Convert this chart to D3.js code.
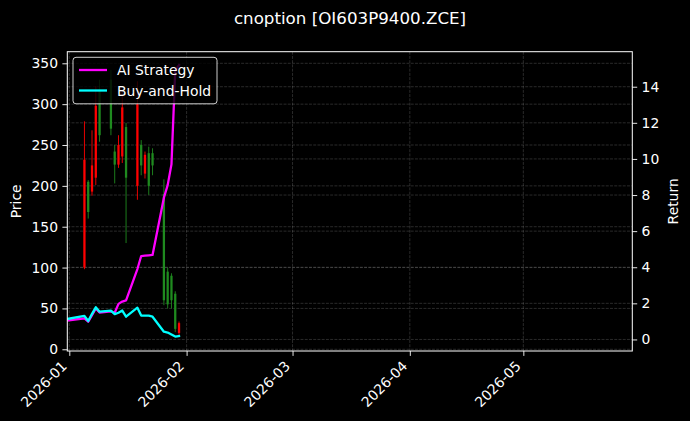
<!DOCTYPE html>
<html>
<head>
<meta charset="utf-8">
<script src="https://cdn.jsdelivr.net/npm/d3@7"></script>
<style>
  html, body { margin: 0; padding: 0; background: #000; }
  svg { display: block; }
  text { font-family: "DejaVu Sans", sans-serif; fill: #fff; }
</style>
</head>
<body>
<svg id="chart" width="690" height="421"></svg>
<script>
// ---- data ----
const title = "cnoption [OI603P9400.ZCE]";
const candleDates = ["2026-01-05","2026-01-06","2026-01-07","2026-01-08","2026-01-09",
  "2026-01-12","2026-01-13","2026-01-14","2026-01-15","2026-01-16",
  "2026-01-19","2026-01-20","2026-01-21","2026-01-22","2026-01-23",
  "2026-01-26","2026-01-27","2026-01-28","2026-01-29","2026-01-30"];
const openP  = [100, 205, 193, 210, 318, 330, 242, 226, 236, 272, 200, 250, 215, 240, 240, 190, 95, 90, 68, 20];
const highP  = [279, 207, 268, 322, 330, 342, 250, 262, 318, 277, 328, 256, 242, 248, 246, 208, 100, 93, 71, 34];
const lowP   = [ 98, 160, 188, 201, 254, 262, 203, 222, 228, 130, 183, 213, 209, 189, 213,  54, 50, 50, 21, 17];
const closeP = [232, 168, 225, 298, 262, 270, 226, 250, 296, 210, 300, 225, 238, 200, 225,  60, 55, 60, 25, 32];

const lineDates = ["2025-12-31"].concat(candleDates);
const aiStrategy  = [1.04, 1.17, 0.98, 1.35, 1.72, 1.49, 1.55, 1.48, 1.97, 2.10, 2.16,
                     3.90, 4.62, 4.64, 4.66, 4.68, 7.85, 8.55, 9.70, 14.9, 15.2];
const buyAndHold  = [1.12, 1.30, 1.02, 1.42, 1.78, 1.54, 1.60, 1.40, 1.48, 1.60, 1.26,
                     1.76, 1.32, 1.32, 1.32, 1.26, 0.43, 0.38, 0.27, 0.16, 0.19];

const priceTicks  = [0, 50, 100, 150, 200, 250, 300, 350];
const returnTicks = [0, 2, 4, 6, 8, 10, 12, 14];
const monthTicks  = ["2026-01-01","2026-02-01","2026-03-01","2026-04-01","2026-05-01"];
const seriesNames = ["AI Strategy", "Buy-and-Hold"];
const seriesColors = ["#ff00ff", "#00ffff"];

// ---- layout ----
const W = 690, H = 421;
const L = 67.3, R = 632.3, T = 51.7, B = 351;
const parse = s => new Date(s + "T00:00:00Z");
const day = 86400000;

const x = d3.scaleUtc()
  .domain([new Date(parse("2026-01-01").getTime() - 0.53 * day),
           new Date(parse("2026-01-01").getTime() + 148.8 * day)])
  .range([L, R]);
const yP = d3.scaleLinear().domain([-2.1, 364.2]).range([B, T]);
const yR = d3.scaleLinear().domain([-0.64, 15.94]).range([B, T]);

const svg = d3.select("#chart");
svg.append("rect").attr("width", W).attr("height", H).attr("fill", "#000");

svg.append("defs").append("clipPath").attr("id", "plotclip")
  .append("rect").attr("x", L).attr("y", T).attr("width", R - L).attr("height", B - T);

// grid
const grid = svg.append("g").attr("clip-path", "url(#plotclip)")
  .attr("stroke", "#b0b0b0").attr("stroke-opacity", 0.3)
  .attr("stroke-width", 0.8).attr("stroke-dasharray", "2.96,1.28");
monthTicks.forEach(m => {
  const xv = x(parse(m));
  grid.append("line").attr("x1", xv).attr("x2", xv).attr("y1", T).attr("y2", B);
});
priceTicks.forEach(t => {
  grid.append("line").attr("x1", L).attr("x2", R).attr("y1", yP(t)).attr("y2", yP(t));
});
returnTicks.forEach(t => {
  grid.append("line").attr("x1", L).attr("x2", R).attr("y1", yR(t)).attr("y2", yR(t));
});

// candles
const plot = svg.append("g").attr("clip-path", "url(#plotclip)");
const bw = 0.6 * (x(parse("2026-01-02")) - x(parse("2026-01-01")));
const candles = candleDates.map((d, i) => ({
  date: parse(d), o: openP[i], h: highP[i], l: lowP[i], c: closeP[i]
}));
const cg = plot.append("g");
candles.forEach(k => {
  const col = k.c >= k.o ? "#ff0000" : "#1f8a1f";
  const cx = x(k.date);
  cg.append("line").attr("x1", cx).attr("x2", cx)
    .attr("y1", yP(k.h)).attr("y2", yP(k.l))
    .attr("stroke", col).attr("stroke-width", 0.9);
  const top = yP(Math.max(k.o, k.c)), bot = yP(Math.min(k.o, k.c));
  cg.append("rect").attr("x", cx - bw / 2).attr("width", bw)
    .attr("y", top).attr("height", Math.max(0.8, bot - top))
    .attr("fill", col);
});

// lines
const lineGen = d3.line().x(d => x(d.date)).y(d => yR(d.v));
[aiStrategy, buyAndHold].forEach((vals, si) => {
  const pts = lineDates.map((d, i) => ({ date: parse(d), v: vals[i] }));
  plot.append("path").datum(pts).attr("d", lineGen)
    .attr("fill", "none").attr("stroke", seriesColors[si])
    .attr("stroke-width", 2.3).attr("stroke-linejoin", "round").attr("stroke-linecap", "square");
});

// legend
const lg = svg.append("g");
lg.append("rect").attr("x", 73).attr("y", 57.3).attr("width", 144).attr("height", 46.5)
  .attr("rx", 3).attr("fill", "#000").attr("fill-opacity", 0.8)
  .attr("stroke", "#fff").attr("stroke-opacity", 0.8).attr("stroke-width", 1);
seriesNames.forEach((n, i) => {
  const yy = 70 + i * 20.5;
  lg.append("line").attr("x1", 79).attr("x2", 107).attr("y1", yy).attr("y2", yy)
    .attr("stroke", seriesColors[i]).attr("stroke-width", 2.3);
  lg.append("text").attr("x", 117).attr("y", yy + 5).attr("font-size", 13.9).text(n);
});

// frame
svg.append("rect").attr("x", L).attr("y", T).attr("width", R - L).attr("height", B - T)
  .attr("fill", "none").attr("stroke", "#fff").attr("stroke-width", 1);

// axes
const axL = svg.append("g").attr("transform", `translate(${L},0)`)
  .call(d3.axisLeft(yP).tickValues(priceTicks).tickSize(4.9).tickPadding(4.4));
const axR = svg.append("g").attr("transform", `translate(${R},0)`)
  .call(d3.axisRight(yR).tickValues(returnTicks).tickSize(4.9).tickPadding(4.4));
const axB = svg.append("g").attr("transform", `translate(0,${B})`)
  .call(d3.axisBottom(x).tickValues(monthTicks.map(parse)).tickSize(4.9)
    .tickFormat(d3.utcFormat("%Y-%m")));
[axL, axR, axB].forEach(a => {
  a.select(".domain").remove();
  a.selectAll(".tick line").attr("stroke", "#fff").attr("stroke-width", 0.9);
  a.selectAll(".tick text").attr("fill", "#fff").attr("font-size", 13.9)
    .attr("font-family", "DejaVu Sans");
});
axB.selectAll(".tick text")
  .attr("text-anchor", "end").attr("dy", null).attr("y", null)
  .attr("transform", "translate(-2,16) rotate(-45)");

// labels
svg.append("text").attr("x", 350).attr("y", 24).attr("text-anchor", "middle")
  .attr("font-size", 16.7).text(title);
svg.append("text").attr("transform", `translate(21,${(T + B) / 2}) rotate(-90)`)
  .attr("text-anchor", "middle").attr("font-size", 13.9).text("Price");
svg.append("text").attr("transform", `translate(678,${(T + B) / 2}) rotate(-90)`)
  .attr("text-anchor", "middle").attr("font-size", 13.9).text("Return");
</script>
</body>
</html>
